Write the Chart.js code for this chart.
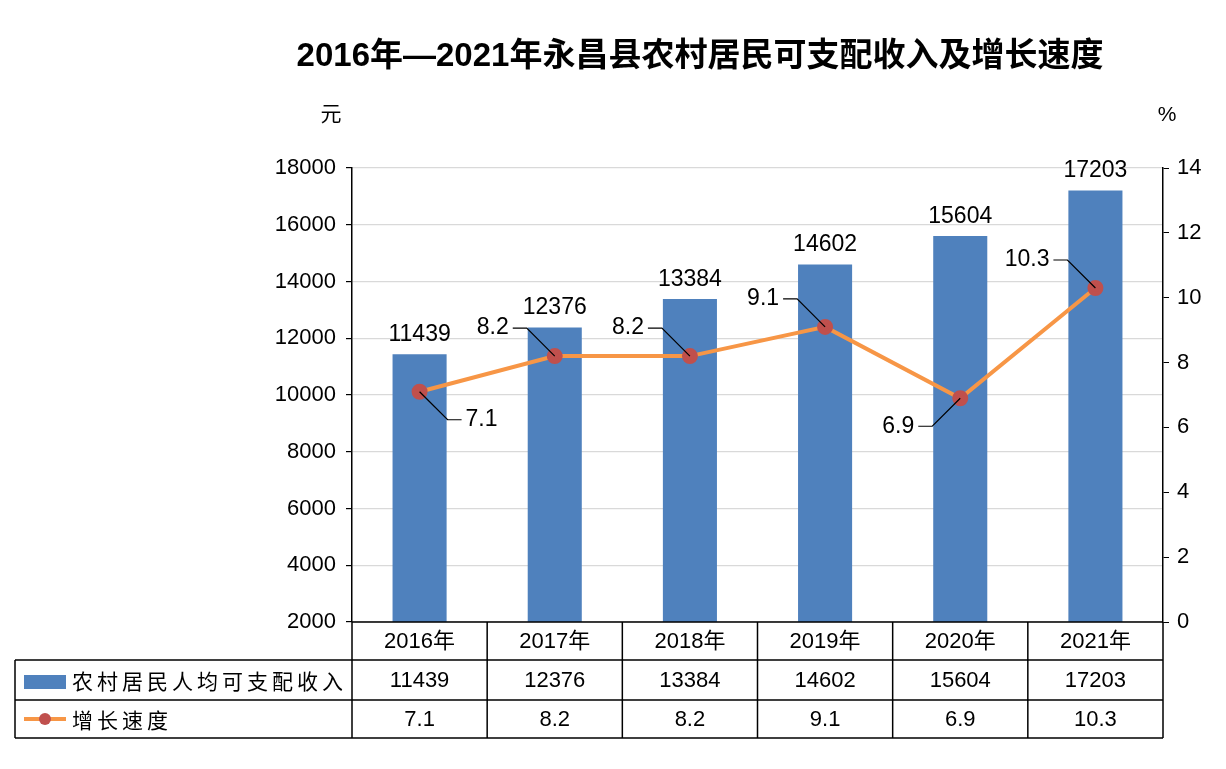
<!DOCTYPE html>
<html><head><meta charset="utf-8">
<script src="https://cdn.jsdelivr.net/npm/chart.js@4"></script>
<style>body{margin:0;background:#fff}#wrap{width:1226px;height:769px}</style>
</head><body><div id="wrap"><canvas id="c"></canvas></div>
<script>
const years = ['2016年', '2017年', '2018年', '2019年', '2020年', '2021年'];
const income = [11439, 12376, 13384, 14602, 15604, 17203];
const growth = [7.1, 8.2, 8.2, 9.1, 6.9, 10.3];
// label offsets for growth labels [dx, dy]
const offs = [[1, 1], [-1, -1], [-1, -1], [-1, -1], [-1, 1], [-1, -1]];
const FONT = '"Liberation Sans", Arial, "Noto Sans CJK SC", sans-serif';

const extras = {
  id: 'extras',
  afterDraw(chart) {
    const c = chart.ctx, x = chart.scales.x, a = chart.chartArea;
    c.save();
    c.fillStyle = '#000';
    c.font = 'bold 33px ' + FONT;
    c.textAlign = 'center'; c.textBaseline = 'middle';
    c.fillText('2016年—2021年永昌县农村居民可支配收入及增长速度', 700, 57);
    c.font = '21px ' + FONT;
    c.fillText('元', 331, 115);
    c.fillText('%', 1167, 115);
    // bar labels
    const bm = chart.getDatasetMeta(0);
    c.font = '23px ' + FONT;
    bm.data.forEach((b, i) => { c.textBaseline = 'bottom'; c.fillText(income[i], b.x, b.y - 8); });
    // line labels with leaders
    const lm = chart.getDatasetMeta(1);
    c.strokeStyle = '#000'; c.lineWidth = 1.2;
    lm.data.forEach((p, i) => {
      const [dx, dy] = offs[i];
      const ex = p.x + dx * 28, ey = p.y + dy * 28;
      c.beginPath(); c.moveTo(p.x, p.y); c.lineTo(ex, ey); c.lineTo(ex + dx * 14, ey); c.stroke();
      c.textAlign = dx > 0 ? 'left' : 'right'; c.textBaseline = 'middle';
      c.fillText(growth[i], ex + dx * 18, ey);
    });
    // table
    const rows = [622, 660, 700, 738], L = 15, R = a.right;
    c.lineWidth = 1.5;
    c.beginPath();
    c.moveTo(a.left, rows[0]); c.lineTo(R, rows[0]);
    for (let r = 1; r < 4; r++) { c.moveTo(L, rows[r]); c.lineTo(R, rows[r]); }
    c.moveTo(L, rows[1]); c.lineTo(L, rows[3]);
    const step = (x.getPixelForValue(1) - x.getPixelForValue(0));
    for (let i = 0; i <= 6; i++) {
      const xx = x.getPixelForValue(0) - step / 2 + i * step;
      c.moveTo(xx, rows[0]); c.lineTo(xx, rows[3]);
    }
    c.stroke();
    c.textAlign = 'center'; c.textBaseline = 'middle';
    c.font = '22px ' + FONT;
    years.forEach((y, i) => {
      const xx = x.getPixelForValue(i);
      c.fillText(y, xx, 642);
      c.fillText(income[i], xx, 681);
      c.fillText(growth[i].toFixed(1), xx, 720);
    });
    // legend cells
    c.fillStyle = '#4f81bd'; c.fillRect(24, 675, 42, 14);
    c.strokeStyle = '#f79646'; c.lineWidth = 4;
    c.beginPath(); c.moveTo(24, 719); c.lineTo(66, 719); c.stroke();
    c.fillStyle = '#c0504d'; c.beginPath(); c.arc(45, 719, 6, 0, Math.PI * 2); c.fill();
    c.fillStyle = '#000'; c.textAlign = 'left'; c.font = '21px "Noto Sans CJK SC", sans-serif';
    c.letterSpacing = '4px';
    c.fillText('农村居民人均可支配收入', 72, 681);
    c.fillText('增长速度', 72, 720);
    c.restore();
  }
};

new Chart(document.getElementById('c'), {
  data: {
    labels: years,
    datasets: [
      { type: 'bar', data: income, backgroundColor: '#4f81bd', yAxisID: 'y', barPercentage: 0.4, categoryPercentage: 1, order: 2 },
      { type: 'line', data: growth, yAxisID: 'y1', borderColor: '#f79646', borderWidth: 4,
        pointBackgroundColor: '#c0504d', pointBorderColor: '#c0504d', pointRadius: 6, order: 1 }
    ]
  },
  options: {
    responsive: true, maintainAspectRatio: false, animation: false,
    layout: { padding: { top: 168, bottom: 147, left: 0, right: 0 } },
    plugins: { legend: { display: false }, tooltip: { enabled: false } },
    scales: {
      x: { ticks: { display: false }, grid: { display: false }, border: { display: false },
        afterFit: s => { s.height = 0; } },
      y: { min: 2000, max: 18000,
        ticks: { stepSize: 2000, color: '#000', font: { size: 22, family: FONT }, padding: 10, callback: v => String(v) },
        grid: { color: '#d9d9d9', tickColor: '#000', tickLength: 6, lineWidth: 1.2 },
        border: { color: '#000', width: 1.5 },
        afterFit: s => { s.width = 352; } },
      y1: { position: 'right', min: 0, max: 14, ticks: { stepSize: 2, color: '#000', font: { size: 22, family: FONT }, padding: 8 },
        grid: { drawOnChartArea: false, tickColor: '#000', tickLength: 6 },
        border: { color: '#000', width: 1.5 },
        afterFit: s => { s.width = 63; } }
    }
  },
  plugins: [extras]
});
</script></body></html>
